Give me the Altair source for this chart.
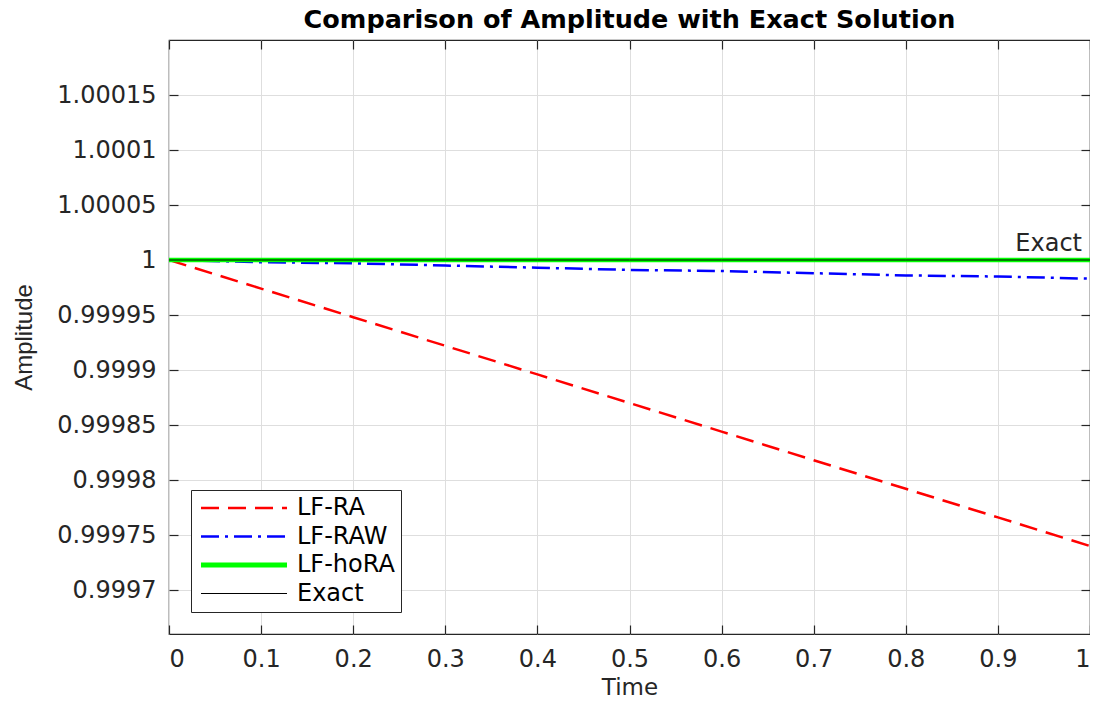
import altair as alt
import pandas as pd

time = [0.0, 0.1, 0.2, 0.3, 0.4, 0.5, 0.6, 0.7, 0.8, 0.9, 1.0]
lf_ra = [1.0, 0.999974, 0.999948, 0.999922, 0.999896, 0.99987, 0.999844, 0.999818, 0.999792, 0.999766, 0.99974]
lf_raw = [1.0, 0.999998, 0.999997, 0.999995, 0.999993, 0.999991, 0.99999, 0.999988, 0.999986, 0.999985, 0.999983]
lf_hora = [1.0, 1.0, 1.0, 1.0, 1.0, 1.0, 1.0, 1.0, 1.0, 1.0, 1.0]
exact = [1.0, 1.0, 1.0, 1.0, 1.0, 1.0, 1.0, 1.0, 1.0, 1.0, 1.0]

series_names = ["LF-RA", "LF-RAW", "LF-hoRA", "Exact"]
series_colors = ["#ff0000", "#0000ff", "#00ff00", "#000000"]
series_dash = [[18, 9], [18, 6, 3, 6], [1, 0], [1, 0]]

x_ticks = [0, 0.1, 0.2, 0.3, 0.4, 0.5, 0.6, 0.7, 0.8, 0.9, 1]
y_ticks = [0.9997, 0.99975, 0.9998, 0.99985, 0.9999, 0.99995, 1.0, 1.00005, 1.0001, 1.00015]

rows = []
for name, vals in zip(series_names, [lf_ra, lf_raw, lf_hora, exact]):
    for t, v in zip(time, vals):
        rows.append({"Time": t, "Amplitude": v, "series": name})
df = pd.DataFrame(rows)

label_df = pd.DataFrame({"Time": [1.0], "Amplitude": [1.0], "text": ["Exact"]})

FONT = "DejaVu Sans"
x_scale = alt.Scale(domain=[0, 1], nice=False, zero=False)
y_scale = alt.Scale(domain=[0.99966, 1.0002], nice=False, zero=False)

width_expr = "datum.value === 'LF-hoRA' ? 5 : (datum.value === 'Exact' ? 1 : 2.5)"

lines = alt.Chart(df).mark_line(clip=True).encode(
    x=alt.X("Time:Q", scale=x_scale,
            axis=alt.Axis(values=x_ticks, title="Time", offset=-9, tickSize=9,
                          domain=False, labelPadding=13, titlePadding=5,
                          titleFontSize=23,
                          labelExpr="format(datum.value, '~g')")),
    y=alt.Y("Amplitude:Q", scale=y_scale,
            axis=alt.Axis(values=y_ticks, title="Amplitude", offset=-9, tickSize=9,
                          domain=False, labelPadding=13, titlePadding=20,
                          titleFont="Liberation Sans", titleFontSize=24,
                          labelExpr="format(datum.value, '.5~f')")),
    color=alt.Color("series:N", sort=series_names,
                    scale=alt.Scale(domain=series_names, range=series_colors),
                    legend=alt.Legend(title=None, symbolStrokeWidth={"expr": width_expr})),
    strokeDash=alt.StrokeDash("series:N", sort=series_names,
                              scale=alt.Scale(domain=series_names, range=series_dash),
                              legend=alt.Legend(title=None, symbolStrokeWidth={"expr": width_expr})),
    strokeWidth=alt.StrokeWidth(
        value=2.5,
        condition=[{"test": "datum.series === 'LF-hoRA'", "value": 4.5},
                   {"test": "datum.series === 'Exact'", "value": 1}]),
)

text = alt.Chart(label_df).mark_text(
    align="right", baseline="alphabetic", dx=-8, dy=-9, font=FONT, fontSize=24, color="#262626"
).encode(
    x=alt.X("Time:Q", scale=x_scale,
            axis=alt.Axis(orient="top", values=x_ticks, labels=False, grid=False, title=None,
                          offset=-9, tickSize=9, domain=False)),
    y=alt.Y("Amplitude:Q", scale=y_scale,
            axis=alt.Axis(orient="right", values=y_ticks, labels=False, grid=False, title=None,
                          offset=-9, tickSize=9, domain=False)),
    text="text:N",
)

chart = alt.layer(lines, text).resolve_axis(
    x="independent", y="independent"
).properties(
    width=921, height=594,
    title=alt.TitleParams("Comparison of Amplitude with Exact Solution", font=FONT,
                          fontSize=25.5, fontWeight="bold", color="#000000", offset=6),
    autosize=alt.AutoSizeParams(type="none"),
    padding={"left": 161, "top": 32, "right": 0, "bottom": 65},
).configure_view(
    stroke="#262626", strokeWidth=1.2
).configure_axis(
    labelFont=FONT, labelFontSize=24, labelColor="#262626",
    titleFont=FONT, titleFontSize=24, titleColor="#262626", titleFontWeight="normal",
    gridColor="#dedede", gridWidth=1, tickColor="#262626", tickWidth=1.2,
).configure_legend(
    orient="bottom-left", offset=22, labelFont=FONT, labelFontSize=24, labelColor="#000000",
    symbolType="M-8.6,0H8.6", symbolSize=100, rowPadding=4.5,
    symbolOffset=35, labelOffset=41, padding=6, strokeColor="#262626", fillColor="#ffffff",
    cornerRadius=0,
)

chart.save("out.html", embed_options={"renderer": "svg", "actions": False})
